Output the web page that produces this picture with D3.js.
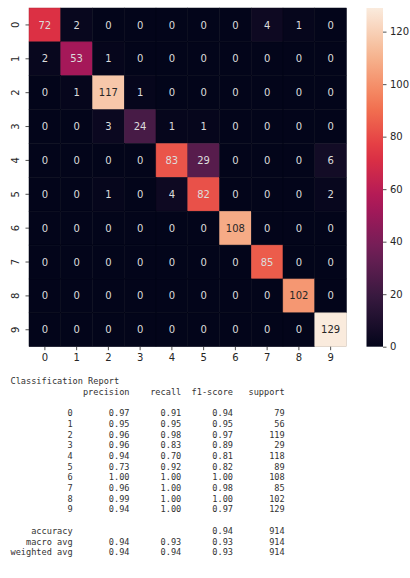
<!DOCTYPE html>
<html>
<head>
<meta charset="utf-8">
<script src="https://cdn.jsdelivr.net/npm/d3@7"></script>
<style>
  html, body { margin: 0; padding: 0; background: #fff; }
  svg { display: block; }
</style>
</head>
<body>
<svg id="chart"></svg>
<script>
// class labels (rows = true, columns = predicted)
var classes = ["0","1","2","3","4","5","6","7","8","9"];

// confusion matrix counts
var matrix = [
  [72, 2,   0,  0,  0,  0,   0,  4,   1,   0],
  [ 2, 53,  1,  0,  0,  0,   0,  0,   0,   0],
  [ 0, 1, 117,  1,  0,  0,   0,  0,   0,   0],
  [ 0, 0,   3, 24,  1,  1,   0,  0,   0,   0],
  [ 0, 0,   0,  0, 83, 29,   0,  0,   0,   6],
  [ 0, 0,   1,  0,  4, 82,   0,  0,   0,   2],
  [ 0, 0,   0,  0,  0,  0, 108,  0,   0,   0],
  [ 0, 0,   0,  0,  0,  0,   0, 85,   0,   0],
  [ 0, 0,   0,  0,  0,  0,   0,  0, 102,   0],
  [ 0, 0,   0,  0,  0,  0,   0,  0,   0, 129]
];

var colorbarTicks = [0, 20, 40, 60, 80, 100, 120];

// classification report
var precision = [0.97, 0.95, 0.96, 0.96, 0.94, 0.73, 1.00, 0.96, 0.99, 0.94];
var recall    = [0.91, 0.95, 0.98, 0.83, 0.70, 0.92, 1.00, 1.00, 1.00, 1.00];
var f1score   = [0.94, 0.95, 0.97, 0.89, 0.81, 0.82, 1.00, 0.98, 1.00, 0.97];
var support   = [79, 56, 119, 29, 118, 89, 108, 85, 102, 129];
var accuracy  = 0.94;
var totalSupport = 914;
var macroAvg    = [0.94, 0.93, 0.93];
var weightedAvg = [0.94, 0.94, 0.93];

var W = 410, H = 578;
var svg = d3.select("#chart").attr("width", W).attr("height", H);

// heatmap box
var hm = {left: 29, top: 8, width: 317.5, height: 338.7};
// colorbar box
var cb = {left: 366.5, width: 16.5};

// rocket colormap stops (seaborn)
var rocket = ["#03051a","#35193e","#701f57","#ad1759","#e13342","#f37651","#f6b48f","#faebdd"];
var vmin = 0, vmax = d3.max(matrix, function(r){ return d3.max(r); });
var color = d3.scaleLinear()
  .domain(rocket.map(function(c, i){ return vmin + (vmax - vmin) * i / (rocket.length - 1); }))
  .range(rocket)
  .interpolate(d3.interpolateRgb)
  .clamp(true);

var x = d3.scaleBand().domain(classes).range([hm.left, hm.left + hm.width]);
var y = d3.scaleBand().domain(classes).range([hm.top, hm.top + hm.height]);

// relative luminance, same rule seaborn uses to pick annotation colour
function luminance(c) {
  var rgb = d3.rgb(c);
  var ch = [rgb.r, rgb.g, rgb.b].map(function(v){
    v = v / 255;
    return v <= 0.03928 ? v / 12.92 : Math.pow((v + 0.055) / 1.055, 2.4);
  });
  return 0.2126 * ch[0] + 0.7152 * ch[1] + 0.0722 * ch[2];
}

var cells = [];
matrix.forEach(function(row, i){
  row.forEach(function(v, j){ cells.push({r: classes[i], c: classes[j], v: v}); });
});

var g = svg.append("g");
g.selectAll("rect.cell")
  .data(cells)
  .enter().append("rect")
    .attr("class", "cell")
    .attr("x", function(d){ return x(d.c); })
    .attr("y", function(d){ return y(d.r); })
    .attr("width", x.bandwidth())
    .attr("height", y.bandwidth())
    .attr("fill", function(d){ return color(d.v); })
    // faint darker rim, like the antialiased mesh edges in the picture
    .attr("stroke", function(d){ return d3.color(color(d.v)).darker(0.6); })
    .attr("stroke-width", 0.5);

g.selectAll("text.annot")
  .data(cells)
  .enter().append("text")
    .attr("class", "annot")
    .attr("x", function(d){ return x(d.c) + x.bandwidth() / 2; })
    .attr("y", function(d){ return y(d.r) + y.bandwidth() / 2; })
    .attr("dy", "0.36em")
    .attr("text-anchor", "middle")
    .style("font-family", "DejaVu Sans")
    .style("font-size", "10px")
    .attr("fill", function(d){ return luminance(color(d.v)) > 0.408 ? "#262626" : "#dcdcdc"; })
    .text(function(d){ return d.v; });

// axes
var xAxis = svg.append("g")
  .attr("transform", "translate(0," + (hm.top + hm.height) + ")")
  .call(d3.axisBottom(x).tickSize(3.5).tickPadding(3.5));
var yAxis = svg.append("g")
  .attr("transform", "translate(" + hm.left + ",0)")
  .call(d3.axisLeft(y).tickSize(3.5).tickPadding(3.5));

[xAxis, yAxis].forEach(function(a){
  a.select(".domain").remove();
  a.selectAll(".tick line").attr("stroke", "#262626").attr("stroke-width", 0.8);
  a.selectAll(".tick text")
    .attr("fill", "#262626")
    .style("font-family", "DejaVu Sans")
    .style("font-size", "10px");
});
xAxis.selectAll(".tick text").attr("dy", "0.75em");
// y labels rotated like seaborn
yAxis.selectAll(".tick text")
  .attr("text-anchor", "middle")
  .attr("x", null)
  .attr("transform", "translate(-14,0) rotate(-90)")
  .attr("dy", "0.36em");

// colorbar
var cbScale = d3.scaleLinear().domain([vmin, vmax]).range([hm.top + hm.height, hm.top]);
var defs = svg.append("defs");
var grad = defs.append("linearGradient")
  .attr("id", "cbgrad")
  .attr("x1", 0).attr("y1", 1).attr("x2", 0).attr("y2", 0);
grad.selectAll("stop")
  .data(d3.range(0, 1.0001, 0.05))
  .enter().append("stop")
    .attr("offset", function(t){ return t; })
    .attr("stop-color", function(t){ return color(vmin + t * (vmax - vmin)); });

svg.append("rect")
  .attr("x", cb.left)
  .attr("y", cbScale(vmax))
  .attr("width", cb.width)
  .attr("height", cbScale(vmin) - cbScale(vmax))
  .attr("fill", "url(#cbgrad)");

var cbAxis = svg.append("g")
  .attr("transform", "translate(" + (cb.left + cb.width) + ",0)")
  .call(d3.axisRight(cbScale).tickValues(colorbarTicks).tickSize(3.5).tickPadding(3.5));
cbAxis.select(".domain").remove();
cbAxis.selectAll(".tick line").attr("stroke", "#262626").attr("stroke-width", 0.8);
cbAxis.selectAll(".tick text")
  .attr("fill", "#262626")
  .style("font-family", "DejaVu Sans")
  .style("font-size", "10px");

// classification report text, laid out like sklearn prints it
function pad(s, n) { s = String(s); while (s.length < n) s = " " + s; return s; }
var width = 12;
var lines = ["Classification Report"];
lines.push(pad("", width) + " " + [" precision", "    recall", "  f1-score", "   support"].join(""));
lines.push("");
classes.forEach(function(c, i){
  lines.push(pad(c, width) + " " +
    " " + pad(precision[i].toFixed(2), 9) +
    " " + pad(recall[i].toFixed(2), 9) +
    " " + pad(f1score[i].toFixed(2), 9) +
    " " + pad(support[i], 9));
});
lines.push("");
lines.push(pad("accuracy", width) + " " + " " + pad("", 9) + " " + pad("", 9) +
  " " + pad(accuracy.toFixed(2), 9) + " " + pad(totalSupport, 9));
lines.push(pad("macro avg", width) + " " + " " + macroAvg.map(function(v){ return pad(v.toFixed(2), 9); }).join(" ") +
  " " + pad(totalSupport, 9));
lines.push(pad("weighted avg", width) + " " + " " + weightedAvg.map(function(v){ return pad(v.toFixed(2), 9); }).join(" ") +
  " " + pad(totalSupport, 9));

svg.append("g")
  .selectAll("text")
  .data(lines)
  .enter().append("text")
    .attr("x", 10.5)
    .attr("y", function(d, i){ return 384 + i * 10.7; })
    .attr("xml:space", "preserve")
    .style("white-space", "pre")
    .style("font-family", "DejaVu Sans Mono")
    .style("font-size", "8.6px")
    .attr("fill", "#333")
    .text(function(d){ return d; });
</script>
</body>
</html>
